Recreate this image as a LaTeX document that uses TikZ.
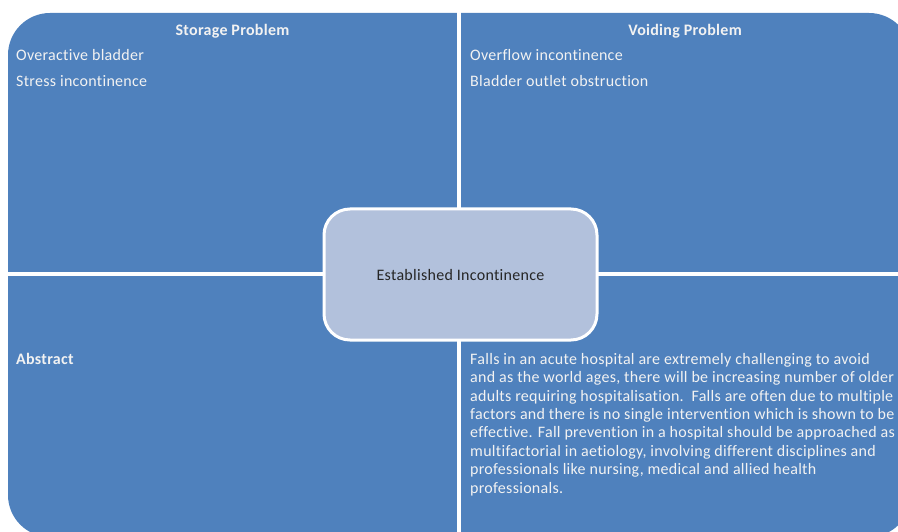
\documentclass[tikz,border=0pt]{standalone}
\usepackage{fontspec}
\setmainfont{Carlito}[LetterSpace=1.8, Ligatures=NoCommon]
\usepackage{xcolor}
\definecolor{quadblue}{HTML}{4F81BD}
\definecolor{hubfill}{HTML}{B2C1DC}
\definecolor{quadtext}{HTML}{F2F2F2}

\tikzset{
    quadtitle/.style={text=quadtext, font=\fontsize{16}{18.4}\selectfont\bfseries, inner sep=0pt, anchor=base},
    quaditem/.style={text=quadtext, font=\fontsize{16}{18.4}\selectfont, inner sep=0pt, anchor=base west},
}

\begin{document}
\begin{tikzpicture}[x=1pt,y=-1pt]
    \useasboundingbox (0,0) rectangle (898,532);
    \clip (0,0) rectangle (898,532);
    % the four quadrants as one block, split by white gaps
    \fill[quadblue, rounded corners=42pt] (8,13) rectangle (911,537);
    \fill[white] (457,0) rectangle (461,537);
    \fill[white] (0,272) rectangle (911,276);
    % storage
    \node [quadtitle] (storage) at (232.5,36) {Storage Problem};
    \node [quaditem] (oab) at (16,61) {Overactive bladder};
    \node [quaditem] (stress) at (16,87) {Stress incontinence};
    % voiding
    \node [quadtitle] (voiding) at (685,36) {Voiding Problem};
    \node [quaditem] (overflow) at (470,61) {Overflow incontinence};
    \node [quaditem] (boo) at (470,87) {Bladder outlet obstruction};
    % abstract
    \node [quaditem, font=\fontsize{16}{18.4}\selectfont\bfseries] (abstract) at (16,364) {Abstract};
    \node [quaditem, align=left, anchor=north west] (summary) at (470,353) {Falls in an acute hospital are extremely challenging to avoid\\
        and as the world ages, there will be increasing number of older\\
        adults requiring hospitalisation.\ \ Falls are often due to multiple\\
        factors and there is no single intervention which is shown to be\\
        effective. Fall prevention in a hospital should be approached as\\
        multifactorial in aetiology, involving different disciplines and\\
        professionals like nursing, medical and allied health\\
        professionals.};
    % centre box
    \draw [white, line width=3pt, fill=hubfill, rounded corners=26pt] (324,209) rectangle (597,340);
    \node [text=black!85, font=\fontsize{16}{18.4}\selectfont, inner sep=0pt] (hub) at (460.5,275.5) {Established Incontinence};
\end{tikzpicture}
\end{document}
